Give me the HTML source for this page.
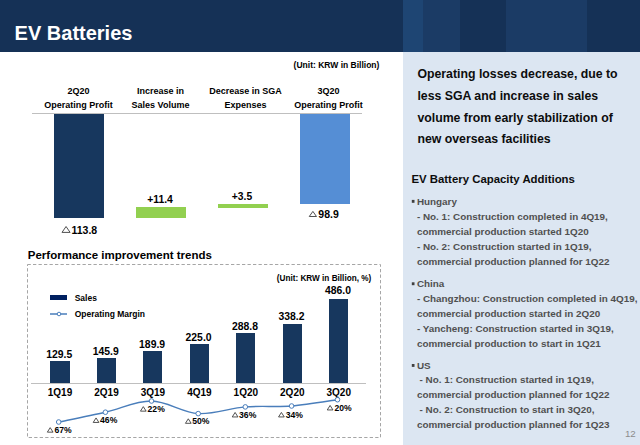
<!DOCTYPE html>
<html><head><meta charset="utf-8"><style>
html,body{margin:0;padding:0;}
body{width:640px;height:445px;position:relative;overflow:hidden;background:#fff;font-family:"Liberation Sans",sans-serif;}
.t{position:absolute;white-space:nowrap;line-height:normal;}
.r{position:absolute;}
.tri{font-weight:400;color:#404040;}
</style></head><body>
<div class="r" style="left:0px;top:0px;width:640px;height:52px;background:#153156;"></div>
<div class="r" style="left:403px;top:0px;width:20px;height:52px;background:#1e4573;"></div>
<div class="r" style="left:423px;top:0px;width:37px;height:52px;background:#1b3b65;"></div>
<div class="r" style="left:506px;top:0px;width:81px;height:52px;background:#1b3b65;"></div>
<div class="t" style="left:14.60px;top:22.40px;font-size:20px;font-weight:700;color:#fff;">EV Batteries</div>
<div class="r" style="left:403px;top:52px;width:237px;height:393px;background:#dce6f2;"></div>
<div class="t" style="left:186.50px;width:300px;text-align:center;top:59.91px;font-size:8.5px;font-weight:700;color:#000;">(Unit: KRW in Billion)</div>
<div class="t" style="left:-71.50px;width:300px;text-align:center;top:85.86px;font-size:9px;font-weight:700;color:#000;">2Q20</div>
<div class="t" style="left:-71.50px;width:300px;text-align:center;top:100.06px;font-size:9px;font-weight:700;color:#000;">Operating Profit</div>
<div class="t" style="left:10.50px;width:300px;text-align:center;top:85.86px;font-size:9px;font-weight:700;color:#000;">Increase in</div>
<div class="t" style="left:10.50px;width:300px;text-align:center;top:100.06px;font-size:9px;font-weight:700;color:#000;">Sales Volume</div>
<div class="t" style="left:95.50px;width:300px;text-align:center;top:85.86px;font-size:9px;font-weight:700;color:#000;">Decrease in SGA</div>
<div class="t" style="left:95.50px;width:300px;text-align:center;top:100.06px;font-size:9px;font-weight:700;color:#000;">Expenses</div>
<div class="t" style="left:178.50px;width:300px;text-align:center;top:85.86px;font-size:9px;font-weight:700;color:#000;">3Q20</div>
<div class="t" style="left:178.50px;width:300px;text-align:center;top:100.06px;font-size:9px;font-weight:700;color:#000;">Operating Profit</div>
<div class="r" style="left:32px;top:113px;width:330px;height:1px;background:#bfbfbf;"></div>
<div class="r" style="left:54px;top:114px;width:50px;height:104px;background:#17375e;"></div>
<div class="r" style="left:136px;top:207px;width:50px;height:11px;background:#92d050;"></div>
<div class="r" style="left:218px;top:204px;width:50px;height:4px;background:#92d050;"></div>
<div class="r" style="left:300px;top:114px;width:50px;height:90px;background:#558ed5;"></div>
<svg class="r" style="left:0;top:0" width="640" height="445"><path d="M62.00,232.40 L66.05,226.50 L70.10,232.40 Z" fill="none" stroke="#505050" stroke-width="1.0" stroke-linejoin="miter"/></svg>
<div class="t" style="left:71.50px;top:223.50px;font-size:10.5px;font-weight:700;color:#000;">113.8</div>
<div class="t" style="left:10.00px;width:300px;text-align:center;top:193.99px;font-size:10.4px;font-weight:700;color:#000;">+11.4</div>
<div class="t" style="left:92.00px;width:300px;text-align:center;top:190.68px;font-size:10.3px;font-weight:700;color:#000;">+3.5</div>
<svg class="r" style="left:0;top:0" width="640" height="445"><path d="M309.25,216.50 L312.88,211.40 L316.50,216.50 Z" fill="none" stroke="#505050" stroke-width="1.0" stroke-linejoin="miter"/></svg>
<div class="t" style="left:318.30px;top:207.50px;font-size:10.5px;font-weight:700;color:#000;">98.9</div>
<div class="t" style="left:27.80px;top:248.99px;font-size:11.5px;font-weight:700;color:#000;">Performance improvement trends</div>
<svg class="r" style="left:0;top:0" width="640" height="445"><rect x="27.5" y="264.5" width="353" height="173" fill="none" stroke="#a6a6a6" stroke-width="1" stroke-dasharray="3.3 2.2"/></svg>
<div class="t" style="left:174.00px;width:300px;text-align:center;top:273.58px;font-size:8.2px;font-weight:700;color:#000;">(Unit: KRW in Billion, %)</div>
<div class="r" style="left:50px;top:295px;width:17px;height:5px;background:#002060;"></div>
<svg class="r" style="left:0;top:0" width="640" height="445"><line x1="50" y1="314" x2="67" y2="314" stroke="#4a7ebb" stroke-width="1.5"/><circle cx="59" cy="314" r="1.8" fill="#fff" stroke="#4a7ebb" stroke-width="1"/></svg>
<div class="t" style="left:74.70px;top:293.31px;font-size:8.5px;font-weight:700;color:#000;">Sales</div>
<div class="t" style="left:74.70px;top:308.61px;font-size:8.5px;font-weight:700;color:#000;">Operating Margin</div>
<div class="r" style="left:31px;top:383px;width:335px;height:1px;background:#bfbfbf;"></div>
<div class="r" style="left:50px;top:361px;width:20px;height:22px;background:#17375e;"></div>
<div class="t" style="left:-90.80px;width:300px;text-align:center;top:348.59px;font-size:10.4px;font-weight:700;color:#000;">129.5</div>
<div class="t" style="left:-90.00px;width:300px;text-align:center;top:386.75px;font-size:10px;font-weight:700;color:#000;">1Q19</div>
<div class="r" style="left:97px;top:358px;width:19px;height:25px;background:#17375e;"></div>
<div class="t" style="left:-44.34px;width:300px;text-align:center;top:346.34px;font-size:10.4px;font-weight:700;color:#000;">145.9</div>
<div class="t" style="left:-43.54px;width:300px;text-align:center;top:386.75px;font-size:10px;font-weight:700;color:#000;">2Q19</div>
<div class="r" style="left:143px;top:351px;width:19px;height:32px;background:#17375e;"></div>
<div class="t" style="left:2.12px;width:300px;text-align:center;top:339.34px;font-size:10.4px;font-weight:700;color:#000;">189.9</div>
<div class="t" style="left:2.92px;width:300px;text-align:center;top:386.75px;font-size:10px;font-weight:700;color:#000;">3Q19</div>
<div class="r" style="left:190px;top:344px;width:19px;height:39px;background:#17375e;"></div>
<div class="t" style="left:48.58px;width:300px;text-align:center;top:332.29px;font-size:10.4px;font-weight:700;color:#000;">225.0</div>
<div class="t" style="left:49.38px;width:300px;text-align:center;top:386.75px;font-size:10px;font-weight:700;color:#000;">4Q19</div>
<div class="r" style="left:236px;top:333px;width:19px;height:50px;background:#17375e;"></div>
<div class="t" style="left:95.04px;width:300px;text-align:center;top:320.89px;font-size:10.4px;font-weight:700;color:#000;">288.8</div>
<div class="t" style="left:95.84px;width:300px;text-align:center;top:386.75px;font-size:10px;font-weight:700;color:#000;">1Q20</div>
<div class="r" style="left:283px;top:324px;width:19px;height:59px;background:#17375e;"></div>
<div class="t" style="left:141.50px;width:300px;text-align:center;top:311.09px;font-size:10.4px;font-weight:700;color:#000;">338.2</div>
<div class="t" style="left:142.30px;width:300px;text-align:center;top:386.75px;font-size:10px;font-weight:700;color:#000;">2Q20</div>
<div class="r" style="left:329px;top:299px;width:19px;height:84px;background:#17375e;"></div>
<div class="t" style="left:187.96px;width:300px;text-align:center;top:285.09px;font-size:10.4px;font-weight:700;color:#000;">486.0</div>
<div class="t" style="left:188.76px;width:300px;text-align:center;top:386.75px;font-size:10px;font-weight:700;color:#000;">3Q20</div>
<svg class="r" style="left:0;top:0" width="640" height="445"><path d="M58.7,422 C66.48,420.37 89.93,415.70 105.4,412.2 C120.87,408.70 136.03,400.77 151.5,401 C166.97,401.23 182.57,412.62 198.2,413.6 C213.83,414.58 229.73,408.17 245.3,406.9 C260.87,405.63 276.23,407.20 291.6,406 C306.97,404.80 329.85,400.75 337.5,399.7" fill="none" stroke="#4a7ebb" stroke-width="1.4"/><circle cx="58.7" cy="422" r="2.3" fill="#fff" stroke="#4a7ebb" stroke-width="1"/><circle cx="105.4" cy="412.2" r="2.3" fill="#fff" stroke="#4a7ebb" stroke-width="1"/><circle cx="151.5" cy="401" r="2.3" fill="#fff" stroke="#4a7ebb" stroke-width="1"/><circle cx="198.2" cy="413.6" r="2.3" fill="#fff" stroke="#4a7ebb" stroke-width="1"/><circle cx="245.3" cy="406.9" r="2.3" fill="#fff" stroke="#4a7ebb" stroke-width="1"/><circle cx="291.6" cy="406" r="2.3" fill="#fff" stroke="#4a7ebb" stroke-width="1"/><circle cx="337.5" cy="399.7" r="2.3" fill="#fff" stroke="#4a7ebb" stroke-width="1"/></svg>
<svg class="r" style="left:0;top:0" width="640" height="445"><path d="M47.35,432.15 L50.20,427.65 L53.05,432.15 Z" fill="none" stroke="#404040" stroke-width="0.9" stroke-linejoin="miter"/></svg>
<div class="t" style="left:54.45px;top:424.82px;font-size:8.6px;font-weight:700;color:#000;">67%</div>
<svg class="r" style="left:0;top:0" width="640" height="445"><path d="M93.20,422.45 L96.05,417.95 L98.90,422.45 Z" fill="none" stroke="#404040" stroke-width="0.9" stroke-linejoin="miter"/></svg>
<div class="t" style="left:100.10px;top:415.12px;font-size:8.6px;font-weight:700;color:#000;">46%</div>
<svg class="r" style="left:0;top:0" width="640" height="445"><path d="M140.45,411.15 L143.30,406.65 L146.15,411.15 Z" fill="none" stroke="#404040" stroke-width="0.9" stroke-linejoin="miter"/></svg>
<div class="t" style="left:147.60px;top:403.82px;font-size:8.6px;font-weight:700;color:#000;">22%</div>
<svg class="r" style="left:0;top:0" width="640" height="445"><path d="M185.45,423.30 L188.30,418.80 L191.15,423.30 Z" fill="none" stroke="#404040" stroke-width="0.9" stroke-linejoin="miter"/></svg>
<div class="t" style="left:192.20px;top:415.97px;font-size:8.6px;font-weight:700;color:#000;">50%</div>
<svg class="r" style="left:0;top:0" width="640" height="445"><path d="M232.25,416.95 L235.10,412.45 L237.95,416.95 Z" fill="none" stroke="#404040" stroke-width="0.9" stroke-linejoin="miter"/></svg>
<div class="t" style="left:239.10px;top:409.62px;font-size:8.6px;font-weight:700;color:#000;">36%</div>
<svg class="r" style="left:0;top:0" width="640" height="445"><path d="M278.55,416.95 L281.40,412.45 L284.25,416.95 Z" fill="none" stroke="#404040" stroke-width="0.9" stroke-linejoin="miter"/></svg>
<div class="t" style="left:285.70px;top:409.62px;font-size:8.6px;font-weight:700;color:#000;">34%</div>
<svg class="r" style="left:0;top:0" width="640" height="445"><path d="M327.25,409.95 L330.10,405.45 L332.95,409.95 Z" fill="none" stroke="#404040" stroke-width="0.9" stroke-linejoin="miter"/></svg>
<div class="t" style="left:334.50px;top:402.62px;font-size:8.6px;font-weight:700;color:#000;">20%</div>
<div class="t" style="left:417.40px;top:66.77px;font-size:12.3px;font-weight:700;color:#0d0d0d;">Operating losses decrease, due to</div>
<div class="t" style="left:417.40px;top:88.67px;font-size:12.3px;font-weight:700;color:#0d0d0d;">less SGA and increase in sales</div>
<div class="t" style="left:417.40px;top:110.57px;font-size:12.3px;font-weight:700;color:#0d0d0d;">volume from early stabilization of</div>
<div class="t" style="left:417.40px;top:132.47px;font-size:12.3px;font-weight:700;color:#0d0d0d;">new overseas facilities</div>
<div class="t" style="left:411.40px;top:172.68px;font-size:11.4px;font-weight:700;color:#0d0d0d;">EV Battery Capacity Additions</div>
<svg class="r" style="left:0;top:0" width="640" height="445"><rect x="411.8" y="199.90" width="2.7" height="2.9" fill="#404040"/></svg>
<div class="t" style="left:416.90px;top:196.04px;font-size:9.9px;font-weight:700;color:#505050;">Hungary</div>
<div class="t" style="left:416.90px;top:211.04px;font-size:9.9px;font-weight:700;color:#505050;">- No. 1: Construction completed in 4Q19,</div>
<div class="t" style="left:416.90px;top:225.54px;font-size:9.9px;font-weight:700;color:#505050;">commercial production started 1Q20</div>
<div class="t" style="left:416.90px;top:240.54px;font-size:9.9px;font-weight:700;color:#505050;">- No. 2: Construction started in 1Q19,</div>
<div class="t" style="left:416.90px;top:255.54px;font-size:9.9px;font-weight:700;color:#505050;">commercial production planned for 1Q22</div>
<svg class="r" style="left:0;top:0" width="640" height="445"><rect x="411.8" y="282.30" width="2.7" height="2.9" fill="#404040"/></svg>
<div class="t" style="left:416.90px;top:278.44px;font-size:9.9px;font-weight:700;color:#505050;">China</div>
<div class="t" style="left:416.90px;top:293.44px;font-size:9.9px;font-weight:700;color:#505050;">- Changzhou: Construction completed in 4Q19,</div>
<div class="t" style="left:416.90px;top:307.84px;font-size:9.9px;font-weight:700;color:#505050;">commercial production started in 2Q20</div>
<div class="t" style="left:416.90px;top:322.64px;font-size:9.9px;font-weight:700;color:#505050;">- Yancheng: Construction started in 3Q19,</div>
<div class="t" style="left:416.90px;top:338.04px;font-size:9.9px;font-weight:700;color:#505050;">commercial production to start in 1Q21</div>
<svg class="r" style="left:0;top:0" width="640" height="445"><rect x="411.8" y="364.00" width="2.7" height="2.9" fill="#404040"/></svg>
<div class="t" style="left:416.90px;top:360.14px;font-size:9.9px;font-weight:700;color:#505050;">US</div>
<div class="t" style="left:419.50px;top:374.44px;font-size:9.9px;font-weight:700;color:#505050;">- No. 1: Construction started in 1Q19,</div>
<div class="t" style="left:416.90px;top:389.24px;font-size:9.9px;font-weight:700;color:#505050;">commercial production planned for 1Q22</div>
<div class="t" style="left:419.50px;top:404.44px;font-size:9.9px;font-weight:700;color:#505050;">- No. 2: Construction to start in 3Q20,</div>
<div class="t" style="left:416.90px;top:419.04px;font-size:9.9px;font-weight:700;color:#505050;">commercial production planned for 1Q23</div>
<div class="t" style="left:335.80px;width:300px;text-align:right;top:428.43px;font-size:9.8px;font-weight:400;color:#8c8c8c;">12</div>
</body></html>
